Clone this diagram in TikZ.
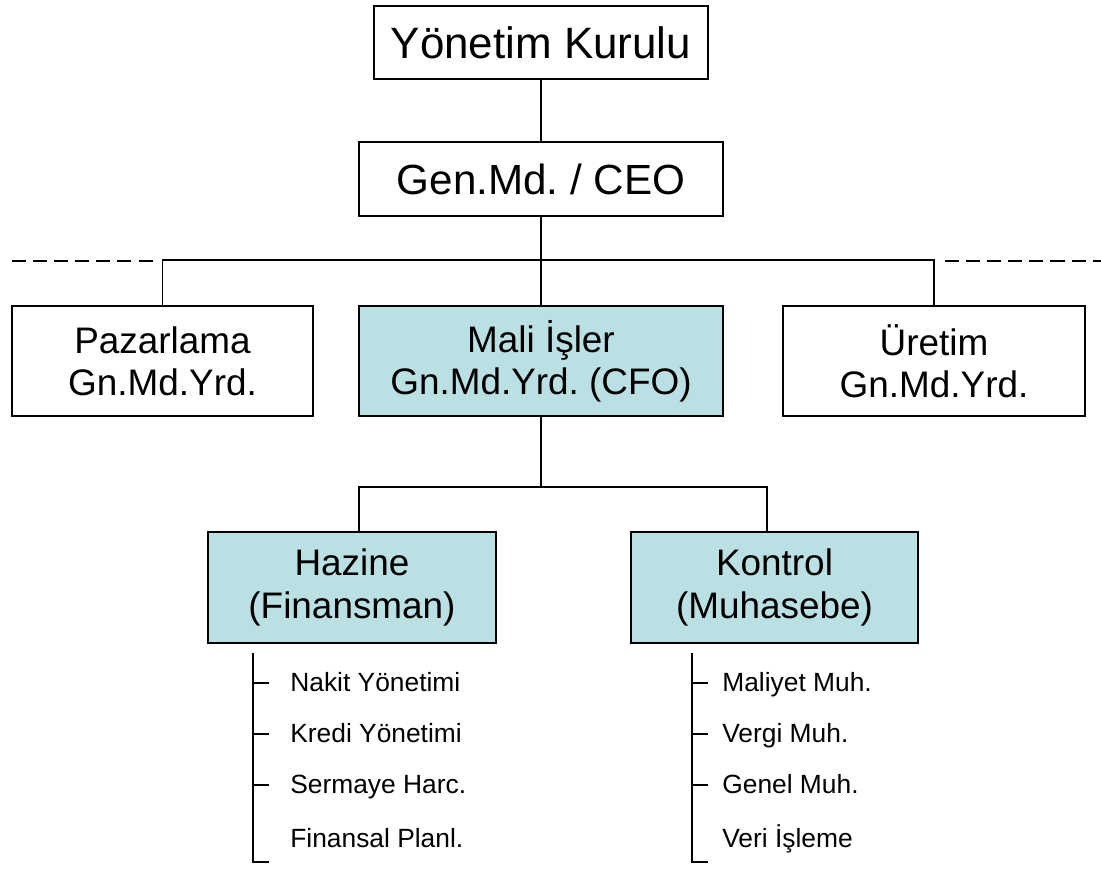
\documentclass[tikz,border=0pt]{standalone}
\usepackage{fontspec}
\setmainfont{Liberation Sans}
\usepackage{tikz}
\usetikzlibrary{positioning}
\definecolor{finbg}{RGB}{187,224,227}
\frenchspacing

\begin{document}
\begin{tikzpicture}[
    box/.style={rectangle, draw, line width=1.1pt, align=center, inner sep=0pt},
    topbox/.style={box, font=\fontsize{24}{28}\selectfont},
    unitbox/.style={box, minimum height=2.2cm, font=\fontsize{21}{24}\selectfont},
    item/.style={anchor=west, inner sep=0pt, text height=2.1ex, text depth=0.3ex, font=\fontsize{15}{18}\selectfont},
    link/.style={line width=1pt},
    gapline/.style={line width=1pt, dash pattern=on 8pt off 4pt}
]
\useasboundingbox (0,0) rectangle (22.02,17.4);

\node[topbox, minimum width=6.68cm, minimum height=1.46cm, font=\fontsize{25}{28}\selectfont] (kurul) at (10.82,16.55) {Yönetim Kurulu};
\node[topbox, minimum width=7.28cm, minimum height=1.48cm] (ceo) at (10.82,13.82) {Gen.Md. / CEO};

\node[unitbox, minimum width=6.02cm] (pazar) at (3.25,10.18) {Pazarlama\\Gn.Md.Yrd.};
\node[unitbox, minimum width=7.28cm, fill=finbg] (mali) at (10.82,10.18) {Mali İşler\\Gn.Md.Yrd. (CFO)};
\node[unitbox, minimum width=6.04cm] (uretim) at (18.68,10.18) {Üretim\\Gn.Md.Yrd.};

\node[unitbox, minimum width=5.76cm, minimum height=2.22cm, fill=finbg] (hazine) at (7.04,5.65) {Hazine\\(Finansman)};
\node[unitbox, minimum width=5.74cm, minimum height=2.22cm, fill=finbg] (kontrol) at (15.49,5.65) {Kontrol\\(Muhasebe)};

\coordinate (dashL) at (0.24,12.18);
\coordinate (dashR) at (22.02,12.18);
\coordinate (finbus) at ([yshift=0.88cm]hazine.north);

\draw[link] (kurul) -- (ceo);
\draw[link] (ceo) -- (mali);
\draw[link] (pazar.north) -- ++(0,0.9) -| (uretim.north);
\draw[gapline] (dashL) -- ([xshift=-0.11cm]dashL -| pazar.north);
\draw[gapline] ([xshift=0.22cm]dashR -| uretim.north) -- (dashR);

\draw[link] (mali) -- (mali |- finbus);
\draw[link] ([xshift=0.14cm]hazine.north) -- ++(0,0.88) -| ([xshift=-0.15cm]kontrol.north);

% Hazine alt birimleri
\coordinate (hzTop) at (5.06,4.34);
\foreach \y/\txt [count=\i] in {3.74/Nakit Yönetimi, 2.72/Kredi Yönetimi, 1.70/Sermaye Harc., 0.62/Finansal Planl.}
    \node[item] (hz\i) at (5.8,\y) {\txt};
\foreach \i in {1,2,3}
    \draw[link] (hzTop |- hz\i.west) -- ++(0.32,0);
\draw[link] (hzTop) |- ([xshift=-0.42cm,yshift=-0.46cm]hz4.west);

% Kontrol alt birimleri
\coordinate (ktTop) at (13.84,4.34);
\foreach \y/\txt [count=\i] in {3.74/Maliyet Muh., 2.72/Vergi Muh., 1.70/Genel Muh., 0.62/Veri İşleme}
    \node[item] (kt\i) at (14.44,\y) {\txt};
\foreach \i in {1,2,3}
    \draw[link] (ktTop |- kt\i.west) -- ++(0.32,0);
\draw[link] (ktTop) |- ([xshift=-0.28cm,yshift=-0.46cm]kt4.west);

\end{tikzpicture}
\end{document}
